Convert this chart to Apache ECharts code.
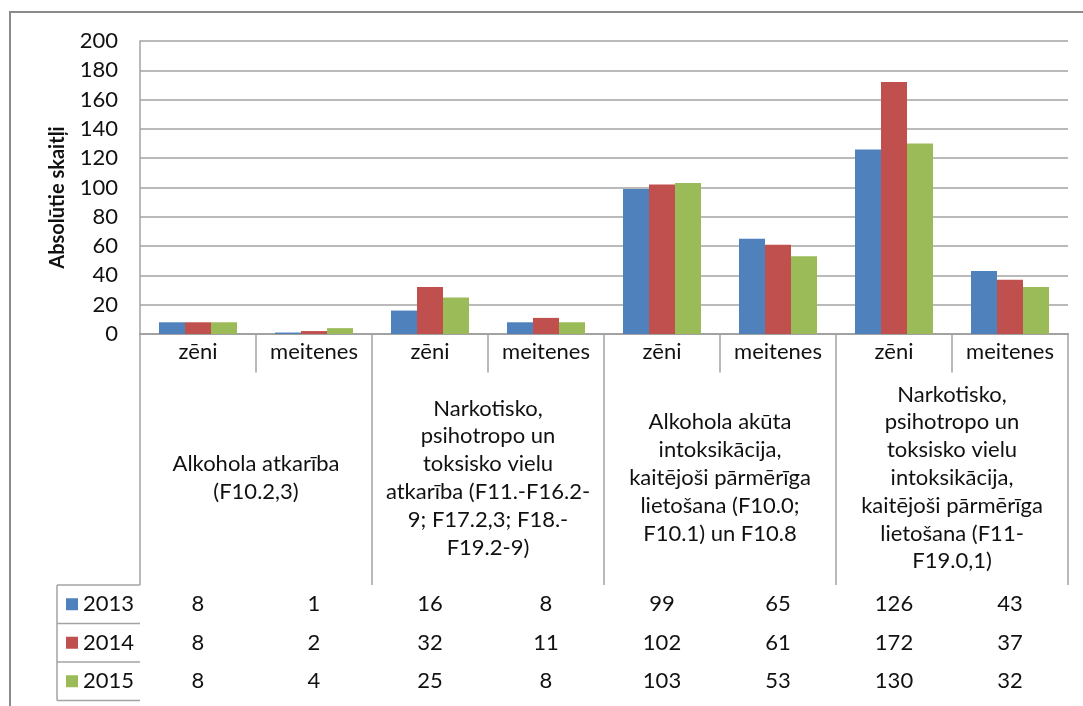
<!DOCTYPE html>
<html><head><meta charset="utf-8">
<script src="https://cdn.jsdelivr.net/npm/echarts@6/dist/echarts.min.js"></script>
<style>html,body{margin:0;padding:0;background:#fff}#c{width:1083px;height:706px}</style>
</head><body><div id="c"></div>
<script>
// ---- data ----
const subCategories = ['zēni','meitenes','zēni','meitenes','zēni','meitenes','zēni','meitenes'];
const groupLabels = [
  'Alkohola atkarība\n(F10.2,3)',
  'Narkotisko,\npsihotropo un\ntoksisko vielu\natkarība (F11.-F16.2-\n9; F17.2,3; F18.-\nF19.2-9)',
  'Alkohola akūta\nintoksikācija,\nkaitējoši pārmērīga\nlietošana (F10.0;\nF10.1) un F10.8',
  'Narkotisko,\npsihotropo un\ntoksisko vielu\nintoksikācija,\nkaitējoši pārmērīga\nlietošana (F11-\nF19.0,1)'
];
const seriesNames = ['2013','2014','2015'];
const values2013 = [8,1,16,8,99,65,126,43];
const values2014 = [8,2,32,11,102,61,172,37];
const values2015 = [8,4,25,8,103,53,130,32];
const yMin = 0, yMax = 200, yStep = 20;
const yAxisTitle = 'Absolūtie skaitļi';

// ---- layout / style ----
const FONT = 'Lato';
const FS = 22;
const TXT = '#111';
const LINE = '#a3a3a3';
const colors = ['#4F81BD','#C0504D','#9BBB59'];
const plotLeft = 140, plotRight = 15, plotTop = 41, plotH = 293;
const axisY = plotTop + plotH;          // 334
const headerH = 38;
const groupBlockH = 251;                // 334 -> 585
const rowH = 38.5;
const tableLeft = 57;

const allValues = [values2013, values2014, values2015];
const gridBase = {left: plotLeft, right: plotRight, top: plotTop, height: plotH};
const grids = [];
for (let i = 0; i < 6; i++) grids.push(Object.assign({}, gridBase));

const labelBase = {fontFamily: FONT, fontSize: FS, color: TXT, interval: 0, verticalAlign: 'middle'};
const tickBase = {show: true, interval: 0, lineStyle: {color: LINE, width: 1.5}};

const xAxes = [
  { gridIndex: 0, type: 'category', data: subCategories, position: 'bottom',
    axisLine: {show: true, lineStyle: {color: LINE, width: 1.5}},
    axisTick: Object.assign({length: headerH}, tickBase),
    axisLabel: Object.assign({margin: 18}, labelBase) },
  { gridIndex: 1, type: 'category', data: groupLabels, position: 'bottom',
    axisLine: {show: false},
    axisTick: Object.assign({length: groupBlockH}, tickBase),
    axisLabel: Object.assign({margin: 144, lineHeight: 27.8, align: 'center'}, labelBase) }
];
allValues.forEach((vals, k) => {
  xAxes.push({ gridIndex: 2 + k, type: 'category', data: vals.map(String), position: 'bottom',
    offset: groupBlockH + k * rowH,
    axisLine: {show: true, lineStyle: {color: LINE, width: 1.5}},
    axisTick: Object.assign({length: rowH}, tickBase),
    axisLabel: Object.assign({margin: 19}, labelBase) });
});
xAxes.push({ gridIndex: 5, type: 'category', data: subCategories.map(() => ''), position: 'bottom',
  offset: groupBlockH + 3 * rowH,
  axisLine: {show: true, lineStyle: {color: LINE, width: 1.5}},
  axisTick: {show: false}, axisLabel: {show: false} });

const yAxes = [{
  gridIndex: 0, type: 'value', min: yMin, max: yMax, interval: yStep,
  name: yAxisTitle, nameLocation: 'middle', nameRotate: 90, nameGap: 72,
  nameTextStyle: {fontFamily: FONT, fontSize: 20, fontWeight: 'bold', color: TXT, padding: [0, 20, 0, 0]},
  axisLine: {show: true, lineStyle: {color: LINE, width: 1.5}},
  axisTick: {show: false},
  axisLabel: {fontFamily: FONT, fontSize: FS, color: TXT, margin: 22},
  splitLine: {show: true, lineStyle: {color: LINE, width: 1.5}}
}];
for (let i = 1; i < 6; i++) yAxes.push({gridIndex: i, type: 'value', show: false});

const series = seriesNames.map((name, k) => ({
  name, type: 'bar', xAxisIndex: 0, yAxisIndex: 0, data: allValues[k],
  barWidth: 26, barGap: '0%', itemStyle: {color: colors[k]}
}));

const rowTop = k => axisY + groupBlockH + k * rowH;
const legends = seriesNames.map((name, k) => ({
  data: [name], orient: 'vertical', left: 61, top: rowTop(k) + rowH / 2 - 11 - 5,
  itemWidth: 12, itemHeight: 12, icon: 'rect', itemGap: 0,
  textStyle: {fontFamily: FONT, fontSize: FS, color: TXT, lineHeight: 22},
  selectedMode: false
}));

const graphics = [
  {type: 'rect', shape: {x: 10, y: 12, width: 1200, height: 800}, style: {fill: null, stroke: '#8a8a8a', lineWidth: 2}, silent: true},
  {type: 'line', shape: {x1: tableLeft, y1: rowTop(0), x2: tableLeft, y2: rowTop(3)}, style: {stroke: LINE, lineWidth: 1.5}, silent: true}
];
for (let k = 0; k <= 3; k++) {
  graphics.push({type: 'line', shape: {x1: tableLeft, y1: rowTop(k), x2: plotLeft, y2: rowTop(k)}, style: {stroke: LINE, lineWidth: 1.5}, silent: true});
}

const chart = echarts.init(document.getElementById('c'), null, {renderer: 'canvas'});
chart.setOption({
  animation: false,
  backgroundColor: '#fff',
  textStyle: {fontFamily: FONT},
  grid: grids,
  xAxis: xAxes,
  yAxis: yAxes,
  legend: legends,
  series,
  graphic: graphics
});
</script></body></html>
